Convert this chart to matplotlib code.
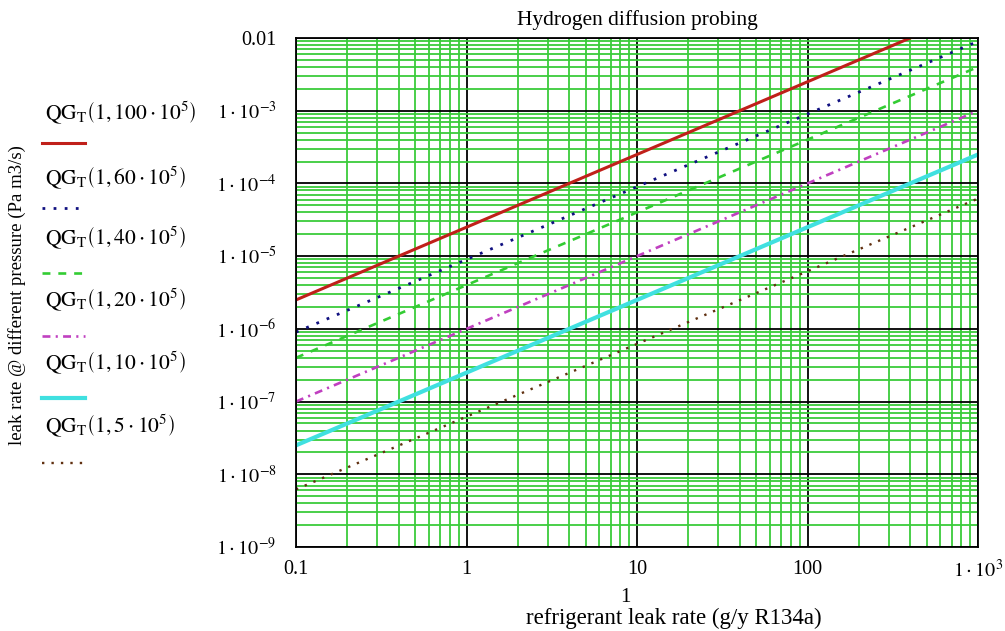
import matplotlib
matplotlib.use("Agg")
import matplotlib.pyplot as plt
from matplotlib.lines import Line2D
from matplotlib.ticker import LogLocator, NullFormatter

plt.rcParams['font.family'] = ['Liberation Serif', 'DejaVu Serif']
plt.rcParams['mathtext.fontset'] = 'stix'

# ---- data ----
x_vals = [0.1, 1, 10, 100, 1000]
pressures = ["100", "60", "40", "20", "10", "5"]
q_100 = [2.5e-6, 2.5e-5, 2.5e-4, 2.5e-3, 2.5e-2]
q_60 = [9.0e-7, 9.0e-6, 9.0e-5, 9.0e-4, 9.0e-3]
q_40 = [4.0e-7, 4.0e-6, 4.0e-5, 4.0e-4, 4.0e-3]
q_20 = [1.0e-7, 1.0e-6, 1.0e-5, 1.0e-4, 1.0e-3]
q_10 = [2.5e-8, 2.5e-7, 2.5e-6, 2.5e-5, 2.5e-4]
q_5 = [6.2e-9, 6.2e-8, 6.2e-7, 6.2e-6, 6.2e-5]
series = [q_100, q_60, q_40, q_20, q_10, q_5]

x_ticks = [0.1, 1, 10, 100, 1000]
x_ticklabels = ["0.1", "1", "10", "100", r"$1\cdot10^{3}$"]
y_ticks = [1e-9, 1e-8, 1e-7, 1e-6, 1e-5, 1e-4, 1e-3, 1e-2]
y_ticklabels = [r"$1\cdot10^{-9}$", r"$1\cdot10^{-8}$", r"$1\cdot10^{-7}$",
                r"$1\cdot10^{-6}$", r"$1\cdot10^{-5}$", r"$1\cdot10^{-4}$",
                r"$1\cdot10^{-3}$", "0.01"]

# ---- styles ----
styles = [
    dict(color='#c0201a', lw=2.2, ls='-'),
    dict(color='#101080', lw=2.0, ls=(0, (1, 3))),
    dict(color='#33cc33', lw=1.9, ls=(0, (3, 3))),
    dict(color='#c040c0', lw=1.9, ls=(0, (3, 2, 0.8, 2))),
    dict(color='#40e0e0', lw=3.0, ls='-'),
    dict(color='#603010', lw=1.7, ls=(0, (1, 3))),
]

W, H = 1005, 631
fig = plt.figure(figsize=(W / 100, H / 100), dpi=100)
L, R, T, B = 296, 978, 38, 547
ax = fig.add_axes([L / W, 1 - B / H, (R - L) / W, (B - T) / H])

ax.set_xscale('log')
ax.set_yscale('log')
ax.set_xlim(0.1, 1000)
ax.set_ylim(1e-9, 1e-2)

for vals, st in zip(series, styles):
    ax.plot(x_vals, vals, color=st['color'], lw=st['lw'], ls=st['ls'],
            solid_capstyle='butt', dash_capstyle='butt')

ax.xaxis.set_minor_locator(LogLocator(base=10, subs=range(2, 10), numticks=20))
ax.yaxis.set_minor_locator(LogLocator(base=10, subs=range(2, 10), numticks=20))
ax.xaxis.set_minor_formatter(NullFormatter())
ax.yaxis.set_minor_formatter(NullFormatter())
ax.grid(which='minor', color='#3acc3a', lw=1.3)
ax.grid(which='major', color='black', lw=1.3)

ax.set_xticks(x_ticks)
ax.set_xticklabels(x_ticklabels, fontsize=14.5)
ax.set_yticks(y_ticks)
ax.set_yticklabels(y_ticklabels, fontsize=14.5)
ax.tick_params(which='both', length=0)
ax.tick_params(axis='x', pad=9)
ax.tick_params(axis='y', pad=14)
for s in ax.spines.values():
    s.set_color('black')
    s.set_linewidth(1.3)

ax.set_title("Hydrogen diffusion probing", fontsize=15.5, pad=9)

fig.text(625 / W, 1 - 598 / H, "1", fontsize=15, ha='center', va='center')
fig.text(674 / W, 1 - 618 / H, "refrigerant leak rate (g/y R134a)",
         fontsize=16.5, ha='center', va='center')
fig.text(17 / W, 1 - 295 / H, "leak rate @ different pressure (Pa m3/s)",
         fontsize=13.5, rotation=90, ha='center', va='center')

# ---- legend (Mathcad style, left side) ----
text_y = [113, 178, 238, 300, 363, 426]
line_y = [143, 208, 273, 336, 398, 463]
for p, st, ty, ly in zip(pressures, styles, text_y, line_y):
    fig.text(45 / W, 1 - ty / H,
             r"$\mathrm{QG}_{\mathrm{T}}\left(1,%s\cdot10^{5}\right)$" % p,
             fontsize=15.5, ha='left', va='center')
    fig.add_artist(Line2D([42 / W, 85 / W], [1 - ly / H, 1 - ly / H],
                          transform=fig.transFigure, color=st['color'],
                          lw=st['lw'], ls=st['ls']))

fig.savefig("out.png", dpi=100)
